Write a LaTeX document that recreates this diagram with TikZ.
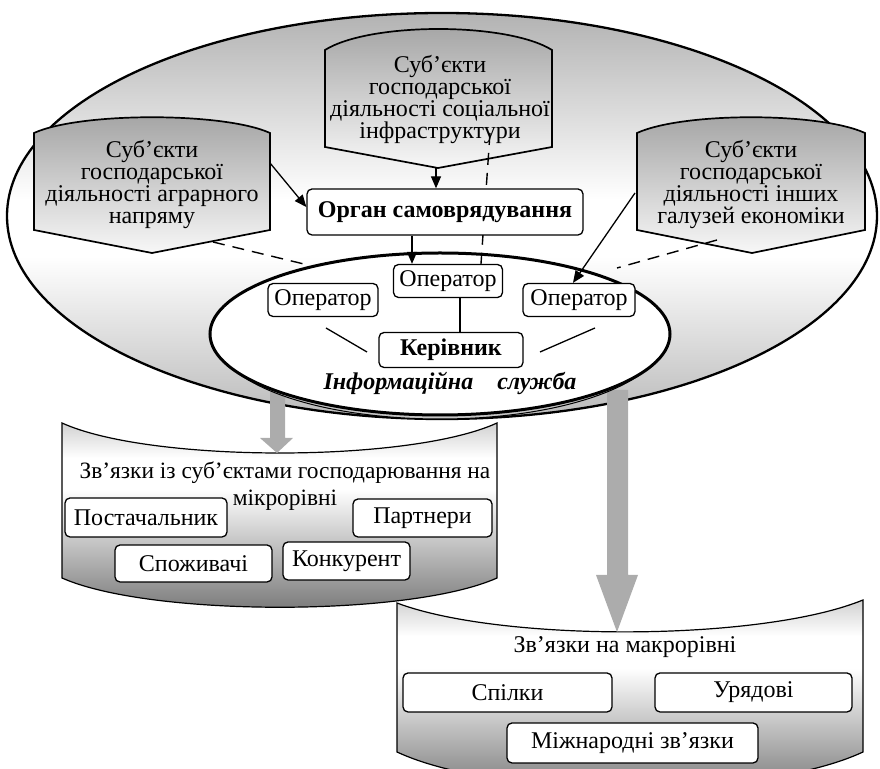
\documentclass[tikz,border=0pt]{standalone}
\usepackage{fontspec}
\setmainfont{Liberation Serif}
\usetikzlibrary{arrows.meta}
\newcommand\tightlines{\lineskiplimit=-20pt\relax}
\pgfdeclareverticalshading{outershade}{100bp}{color(0bp)=(black!27); color(25bp)=(black!27); color(45bp)=(white); color(52bp)=(white); color(75bp)=(black!30); color(100bp)=(black!30)}
\pgfdeclareverticalshading{levelshade}{100bp}{color(0bp)=(black!55); color(25bp)=(black!55); color(58bp)=(white); color(66bp)=(white); color(75bp)=(black!18); color(100bp)=(black!18)}
\tikzset{
  subj/.style={draw,line width=0.85pt,top color=black!36,bottom color=black!3},
  subjtext/.style={align=center,font=\fontsize{12}{11}\selectfont\tightlines},
  rbox/.style={draw,fill=white,rounded corners=2.5pt,line width=0.65pt,inner sep=1pt,font=\fontsize{12}{13}\selectfont},
  level/.style={draw,line width=0.6pt,shading=levelshade},
  bigarrow/.style={fill=gray!65},
  arr/.style={line width=0.65pt,-{Triangle[length=6pt,width=5pt]}},
  link/.style={line width=0.65pt},
  dlink/.style={line width=0.7pt,dash pattern=on 6pt off 4pt}
}
\begin{document}
\begin{tikzpicture}[x=0.5pt,y=0.5pt]
\useasboundingbox (0,0) rectangle (880,-769);
\draw[line width=1.15pt,shading=outershade] (442,-216) ellipse [x radius=435,y radius=203];
\draw[level] (62,-423) .. controls (150,-463) and (410,-463) .. (497,-423) -- (497,-578) .. controls (410,-617) and (150,-617) .. (62,-578) -- cycle;
\draw[level] (397,-603) .. controls (500,-642) and (760,-642) .. (863,-600) -- (863,-752) .. controls (760,-800) and (500,-800) .. (397,-752) -- cycle;
\fill[bigarrow] (270,-390) -- (285,-390) -- (285,-438) -- (293,-438) -- (277,-453) -- (260,-438) -- (270,-438) -- cycle;
\fill[bigarrow] (607,-390) -- (628,-390) -- (628,-575) -- (638,-575) -- (617,-632) -- (596,-575) -- (607,-575) -- cycle;
\draw[line width=0.5pt,fill=gray!45] (440,-338) ellipse [x radius=224,y radius=81];
\draw[line width=1.5pt,fill=white] (440,-334) ellipse [x radius=230,y radius=81];
\draw[subj] (34,-133) .. controls (80,-112) and (224,-112) .. (270,-133) -- (270,-230) -- (152,-253) -- (34,-230) -- cycle;
\draw[subj] (325,-50) .. controls (370,-22) and (507,-22) .. (552,-50) -- (552,-147) -- (438,-168) -- (325,-147) -- cycle;
\draw[subj] (637,-133) .. controls (683,-112) and (819,-112) .. (865,-133) -- (865,-230) -- (752,-253) -- (637,-230) -- cycle;
\node[subjtext] (agr) at (152,-185) {Суб’єкти\\господарської\\діяльності аграрного\\напряму};
\node[subjtext] (soc) at (440,-100) {Суб’єкти\\господарської\\діяльності соціальної\\інфраструктури};
\node[subjtext] (oth) at (751,-185) {Суб’єкти\\господарської\\діяльності інших\\галузей економіки};
\coordinate (agrA) at (270,-163);
\coordinate (agrD) at (213,-242);
\coordinate (socA) at (436,-168);
\coordinate (socD) at (490,-133);
\coordinate (othA) at (635,-193);
\coordinate (othD) at (717,-240);
\coordinate (opLd) at (308,-265);
\coordinate (opRd) at (617,-268);
\coordinate (kl1) at (326,-328);
\coordinate (kl2) at (367,-352);
\coordinate (kr1) at (540,-352);
\coordinate (kr2) at (595,-328);
\node[rbox,minimum width=54.5pt,minimum height=16.5pt] (opC) at (448,-281) {Оператор};
\node[rbox,minimum width=55pt,minimum height=16.5pt] (opL) at (323,-300) {Оператор};
\node[rbox,minimum width=56pt,minimum height=16.5pt] (opR) at (579,-300) {Оператор};
\draw[dlink] (socD) -- ([xshift=16.5pt]opC.north);
\node[rbox,font=\fontsize{12}{13}\bfseries,minimum width=138pt,minimum height=23pt] (organ) at (445,-212) {Орган самоврядування};
\node[rbox,font=\fontsize{12}{13}\bfseries,minimum width=72pt,minimum height=17.5pt] (ker) at (451,-350) {Керівник};
\node[font=\fontsize{12}{13}\bfseries\itshape] (info) at (450,-383) {Інформаційна\quad служба};
\draw[arr] (agrA) -- ([yshift=2.5pt]organ.west);
\draw[arr] (socA) -- (socA |- organ.north);
\draw[arr] ([xshift=-16.5pt]organ.south) -- ([xshift=-18pt]opC.north);
\draw[arr] (othA) -- ([xshift=-3pt]opR.north);
\draw[dlink] (agrD) -- (opLd);
\draw[dlink] (othD) -- (opRd);
\draw[link] ([xshift=6pt]opC.south) -- ([xshift=4.5pt]ker.north);
\draw[link] (kl1) -- (kl2);
\draw[link] (kr1) -- (kr2);
\node[align=center,font=\fontsize{11.7}{13.5}\selectfont] (micro) at (285,-486) {Зв’язки із суб’єктами господарювання на\\мікрорівні};
\node[rbox,minimum width=81pt,minimum height=19.5pt] (post) at (146,-517.5) {Постачальник};
\node[rbox,minimum width=69.5pt,minimum height=19pt] (partn) at (422.5,-518) {Партнери};
\node[rbox,minimum width=78.5pt,minimum height=18.5pt] (spoz) at (193.5,-563.5) {Споживачі};
\node[rbox,minimum width=63.5pt,minimum height=19pt] (konk) at (346.5,-561) {Конкурент};
\node[font=\fontsize{12}{13}\selectfont] (macro) at (625,-647) {Зв’язки на макрорівні};
\node[rbox,minimum width=104.5pt,minimum height=19.5pt] (spil) at (507.5,-692.5) {Спілки};
\node[rbox,minimum width=98.5pt,minimum height=19.5pt] (uriad) at (753.5,-692.5) {Урядові};
\node[rbox,minimum width=125.5pt,minimum height=20pt] (mizh) at (632.5,-743) {Міжнародні зв’язки};
\end{tikzpicture}
\end{document}
